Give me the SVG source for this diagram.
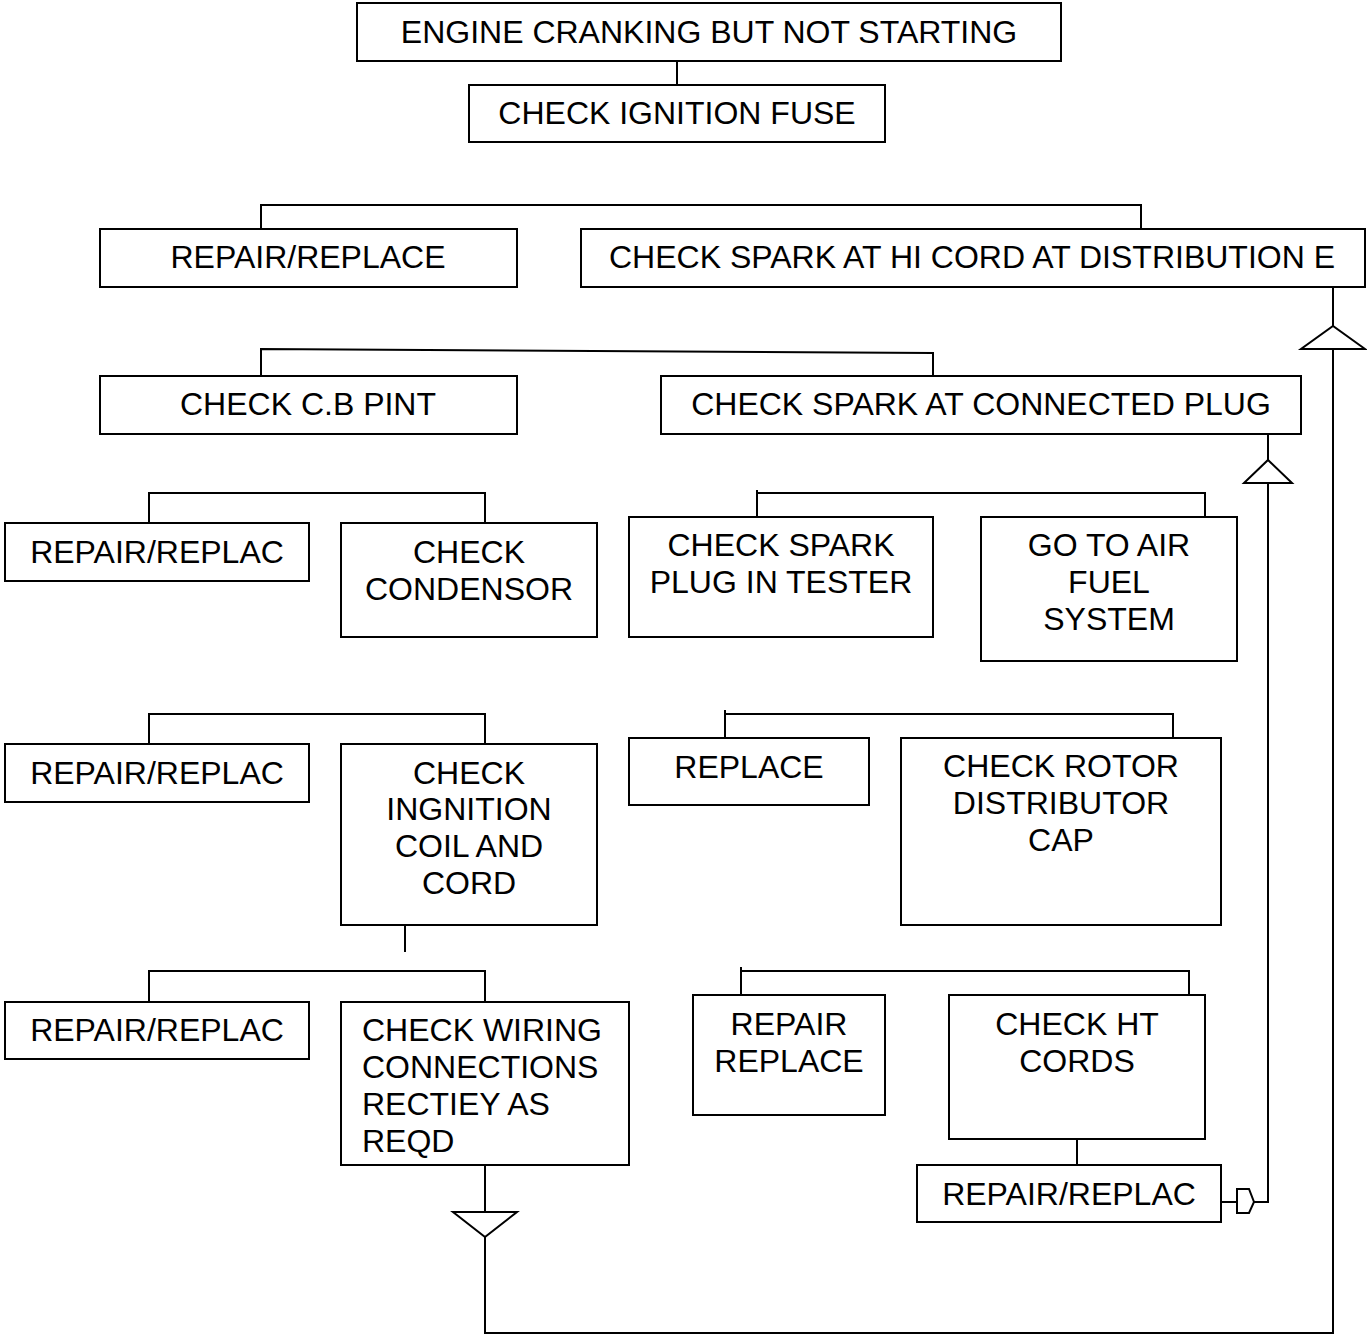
<svg xmlns="http://www.w3.org/2000/svg" width="1367" height="1337" viewBox="0 0 1367 1337">
<style>
.box{fill:#fff;stroke:#000;stroke-width:2}
.t{font-family:"Liberation Sans",Arial,sans-serif;font-size:32px;fill:#000;text-anchor:middle}
.tl{text-anchor:start}
.c{fill:none;stroke:#000;stroke-width:2}
</style>
<rect width="1367" height="1337" fill="#fff"/>
<g id="connectors">
<line class="c" x1="677" y1="61" x2="677" y2="85"/>
<polyline class="c" points="261,229 261,205 1141,205 1141,232"/>
<polyline class="c" points="261,376 261,349 933,353 933,380"/>
<polyline class="c" points="149,523 149,493 485,493 485,527"/>
<polyline class="c" points="757,517 757,490 757,493 1205,493 1205,517"/>
<polyline class="c" points="149,744 149,714 485,714 485,748"/>
<line class="c" x1="405" y1="925" x2="405" y2="952"/>
<polyline class="c" points="725,738 725,710 725,714 1173,714 1173,738"/>
<polyline class="c" points="149,1002 149,971 485,971 485,1005"/>
<polyline class="c" points="741,995 741,967 741,971 1189,971 1189,995"/>
<line class="c" x1="1077" y1="1139" x2="1077" y2="1165"/>
<line class="c" x1="485" y1="1165" x2="485" y2="1212"/>
<polygon class="c" points="453,1212 517,1212 485,1237"/>
<polyline class="c" points="485,1237 485,1333 1333,1333 1333,349"/>
<polygon class="c" points="1301,349 1365,349 1333,326"/>
<line class="c" x1="1333" y1="326" x2="1333" y2="277"/>
<line class="c" x1="1218" y1="1202" x2="1237" y2="1202"/>
<path class="c" d="M1237,1189 L1249,1189 L1254,1202 L1249,1213 L1237,1213 Z"/>
<polyline class="c" points="1254,1202 1268,1202 1268,483"/>
<polygon class="c" points="1244,483 1292,483 1268,460"/>
<line class="c" x1="1268" y1="460" x2="1268" y2="434"/>
</g>
<g id="n1"><rect class="box" x="357" y="3" width="704" height="58"/><text class="t" x="709" y="43">ENGINE CRANKING BUT NOT STARTING</text></g>
<g id="n2"><rect class="box" x="469" y="85" width="416" height="57"/><text class="t" x="677" y="124">CHECK IGNITION FUSE</text></g>
<g id="n3"><rect class="box" x="100" y="229" width="417" height="58"/><text class="t" x="308" y="268">REPAIR/REPLACE</text></g>
<g id="n4"><rect class="box" x="581" y="229" width="784" height="58"/><text class="t" x="972" y="268">CHECK SPARK AT HI CORD AT DISTRIBUTION E</text></g>
<g id="n5"><rect class="box" x="100" y="376" width="417" height="58"/><text class="t" x="308" y="415">CHECK C.B PINT</text></g>
<g id="n6"><rect class="box" x="661" y="376" width="640" height="58"/><text class="t" x="981" y="415">CHECK SPARK AT CONNECTED PLUG</text></g>
<g id="n7"><rect class="box" x="5" y="523" width="304" height="58"/><text class="t" x="157" y="563">REPAIR/REPLAC</text></g>
<g id="n8"><rect class="box" x="341" y="523" width="256" height="114"/><text class="t" x="469" y="563">CHECK</text><text class="t" x="469" y="600">CONDENSOR</text></g>
<g id="n9"><rect class="box" x="629" y="517" width="304" height="120"/><text class="t" x="781" y="556">CHECK SPARK</text><text class="t" x="781" y="593">PLUG IN TESTER</text></g>
<g id="n10"><rect class="box" x="981" y="517" width="256" height="144"/><text class="t" x="1109" y="556">GO TO AIR</text><text class="t" x="1109" y="593">FUEL</text><text class="t" x="1109" y="630">SYSTEM</text></g>
<g id="n11"><rect class="box" x="5" y="744" width="304" height="58"/><text class="t" x="157" y="784">REPAIR/REPLAC</text></g>
<g id="n12"><rect class="box" x="341" y="744" width="256" height="181"/><text class="t" x="469" y="784">CHECK</text><text class="t" x="469" y="820">INGNITION</text><text class="t" x="469" y="857">COIL AND</text><text class="t" x="469" y="894">CORD</text></g>
<g id="n13"><rect class="box" x="629" y="738" width="240" height="67"/><text class="t" x="749" y="778">REPLACE</text></g>
<g id="n14"><rect class="box" x="901" y="738" width="320" height="187"/><text class="t" x="1061" y="777">CHECK ROTOR</text><text class="t" x="1061" y="814">DISTRIBUTOR</text><text class="t" x="1061" y="851">CAP</text></g>
<g id="n15"><rect class="box" x="5" y="1002" width="304" height="57"/><text class="t" x="157" y="1041">REPAIR/REPLAC</text></g>
<g id="n16"><rect class="box" x="341" y="1002" width="288" height="163"/><text class="t tl" x="362" y="1041">CHECK WIRING</text><text class="t tl" x="362" y="1078">CONNECTIONS</text><text class="t tl" x="362" y="1115">RECTIEY AS</text><text class="t tl" x="362" y="1152">REQD</text></g>
<g id="n17"><rect class="box" x="693" y="995" width="192" height="120"/><text class="t" x="789" y="1035">REPAIR</text><text class="t" x="789" y="1072">REPLACE</text></g>
<g id="n18"><rect class="box" x="949" y="995" width="256" height="144"/><text class="t" x="1077" y="1035">CHECK HT</text><text class="t" x="1077" y="1072">CORDS</text></g>
<g id="n19"><rect class="box" x="917" y="1165" width="304" height="57"/><text class="t" x="1069" y="1205">REPAIR/REPLAC</text></g>
</svg>
